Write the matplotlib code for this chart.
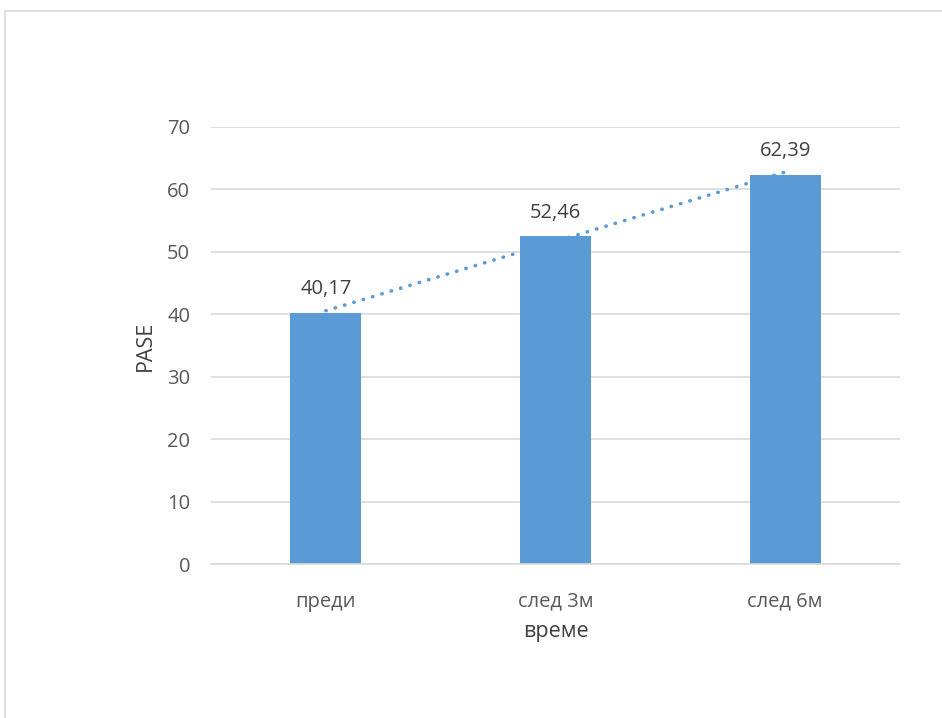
import numpy as np
import matplotlib
matplotlib.use('Agg')
import matplotlib.pyplot as plt
from matplotlib.patches import Rectangle

categories = ['преди', 'след 3м', 'след 6м']
pase = [40.17, 52.46, 62.39]
value_labels = ['40,17', '52,46', '62,39']

plt.rcParams['font.family'] = ['Open Sans', 'DejaVu Sans']

fig = plt.figure(figsize=(9.42, 7.18), dpi=100)
# outer chart frame (cropped on right/bottom like the reference)
fig.patches.append(Rectangle((5 / 942, -0.05), 1.1, 1 - 11.5 / 718 + 0.05,
                             transform=fig.transFigure, fill=False,
                             edgecolor='#d9d9d9', linewidth=1.2))

ax = fig.add_axes([211 / 942, 1 - 564 / 718, 689 / 942, 437 / 718])
x = np.arange(len(categories))
ax.bar(x, pase, width=0.31, color='#5b9bd5', zorder=2)

for xi, v, lab in zip(x, pase, value_labels):
    ax.annotate(lab, (xi, v), xytext=(0, 10), textcoords='offset points',
                ha='center', va='bottom', fontsize=14.5, color='#404040')

# linear trendline
k, b = np.polyfit(x, pase, 1)
ax.plot(x, k * x + b, linestyle=(0, (0.1, 2.6)), color='#5b9bd5',
        linewidth=2.6, dash_capstyle='round', zorder=3)

ax.set_xlim(-0.5, 2.5)
ax.set_ylim(0, 70)
ax.set_yticks(np.arange(0, 71, 10))
ax.set_xticks(x)
ax.set_xticklabels(categories)
ax.yaxis.grid(True, color='#d9d9d9', linewidth=1.2, zorder=0)
ax.set_axisbelow(True)
for s in ['top', 'right', 'left']:
    ax.spines[s].set_visible(False)
ax.spines['bottom'].set_color('#d9d9d9')
ax.spines['bottom'].set_linewidth(1.2)
ax.tick_params(axis='both', length=0, labelsize=14.5, colors='#595959')
ax.tick_params(axis='y', pad=15)
ax.tick_params(axis='x', pad=20)
ax.set_xlabel('време', fontsize=15.5, color='#404040', labelpad=7)
ax.set_ylabel('PASE', fontsize=15.5, color='#404040', labelpad=8)

fig.savefig('out.png', dpi=100)
